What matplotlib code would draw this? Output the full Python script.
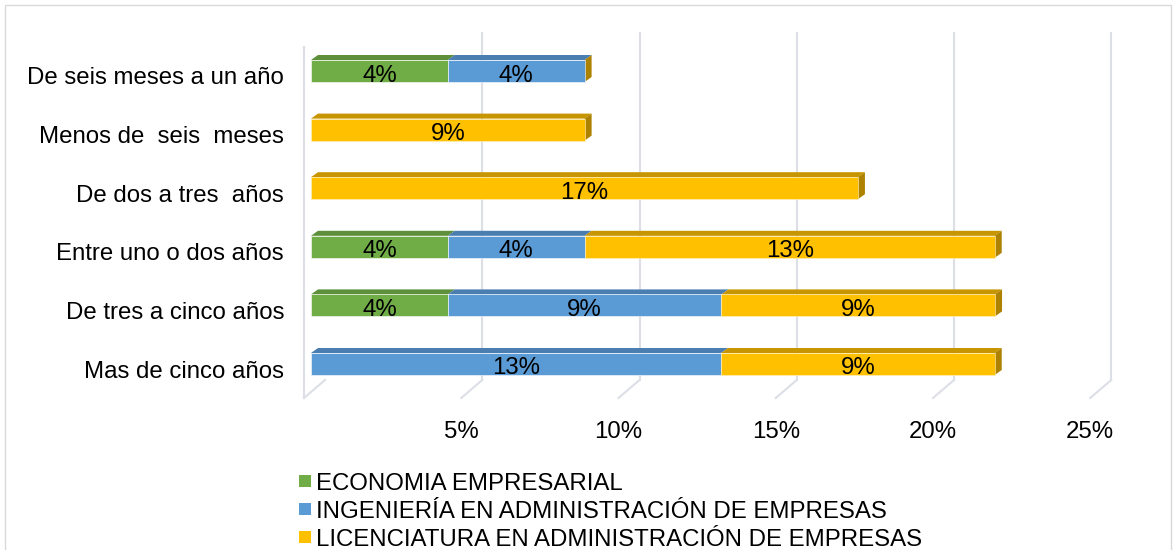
import matplotlib
matplotlib.use("Agg")
import matplotlib.pyplot as plt
from matplotlib.patches import Polygon, Rectangle

plt.rcParams['font.family'] = ['Liberation Sans', 'DejaVu Sans']

categories = ["Mas de cinco años", "De tres a cinco años", "Entre uno o dos años",
              "De dos a tres  años", "Menos de  seis  meses", "De seis meses a un año"]
series_names = ["ECONOMIA EMPRESARIAL",
                "INGENIERÍA EN ADMINISTRACIÓN DE EMPRESAS",
                "LICENCIATURA EN ADMINISTRACIÓN DE EMPRESAS"]
economia = [0, 4.35, 4.35, 0, 0, 4.35]
ingenieria = [13.04, 8.70, 4.35, 0, 0, 4.35]
licenciatura = [8.70, 8.70, 13.04, 17.39, 8.70, 0]
xticks = [5, 10, 15, 20, 25]
xtick_labels = ["5%", "10%", "15%", "20%", "25%"]

front_colors = ["#70AD47", "#5B9BD5", "#FFC000"]
top_colors = ["#5E8F3B", "#4A7DB0", "#C79500"]
side_colors = ["#4F7A32", "#3F6C99", "#AD8200"]

FS = 17.3

W, H = 1174, 550
fig = plt.figure(figsize=(W / 100, H / 100), dpi=100)

# pixel mapping: x_px = 311 + 31.45*v ; y_px = 364 - 58.6*i
PX_X, PX_Y = 31.45, 58.6
ax_l_px, ax_r_px, ax_t_px, ax_b_px = 285, 1140, 25, 410
ax = fig.add_axes([ax_l_px / W, 1 - ax_b_px / H, (ax_r_px - ax_l_px) / W, (ax_b_px - ax_t_px) / H])
ax.set_xlim((ax_l_px - 311) / PX_X, (ax_r_px - 311) / PX_X)
ax.set_ylim((364 - ax_b_px) / PX_Y, (364 - ax_t_px) / PX_Y)
ax.axis("off")

def dxp(px):
    return px / PX_X

def dyp(px):
    return px / PX_Y

grid_col = "#DCDFE6"
back_dx = dxp(14)
floor_front_dx = dxp(-7)
y_back = dyp(364 - 380)
y_front = dyp(364 - 398)
y_top = dyp(364 - 33)

# back wall gridlines and floor lines
for v in [0] + xticks:
    if v > 0:
        ax.plot([v + back_dx, v + back_dx], [y_back, y_top], color=grid_col, lw=1.5, zorder=1)
    ax.plot([v + back_dx, v + floor_front_dx], [y_back, y_front], color=grid_col, lw=1.5, zorder=1)
# left wall front edge
ax.plot([floor_front_dx, floor_front_dx], [y_front, dyp(364 - 47)], color=grid_col, lw=1.5, zorder=1)

bar_h = dyp(22)
ddx, ddy = dxp(7), dyp(5)
series = [economia, ingenieria, licenciatura]
for i, cat in enumerate(categories):
    left = 0.0
    for s, vals in enumerate(series):
        v = vals[i]
        if v <= 0:
            continue
        yb, yt = i - bar_h / 2, i + bar_h / 2
        ax.barh(i, v, left=left, height=bar_h, color=front_colors[s],
                edgecolor="#FFF2CC" if s == 2 else "#FFFFFF", linewidth=0.4, zorder=3)
        ax.add_patch(Polygon([(left, yt), (left + ddx, yt + ddy), (left + v + ddx, yt + ddy), (left + v, yt)],
                             closed=True, facecolor=top_colors[s], edgecolor="none", zorder=2.5))
        ax.text(left + v / 2, i - dyp(2), "%d%%" % round(v), ha="center", va="center_baseline",
                fontsize=FS, color="#000000", zorder=5)
        left += v
    yb, yt = i - bar_h / 2, i + bar_h / 2
    ax.add_patch(Polygon([(left, yb), (left, yt), (left + ddx, yt + ddy), (left + ddx, yb + ddy)],
                         closed=True, facecolor=side_colors[2], edgecolor="none", zorder=2.5))
    ax.text((284 - 311) / PX_X, i - dyp(5), cat, ha="right", va="center_baseline", fontsize=FS, color="#000000")

for v, lab in zip(xticks, xtick_labels):
    ax.text(v + floor_front_dx, dyp(364 - 429), lab, ha="center", va="center_baseline",
            fontsize=FS, color="#000000", clip_on=False)

# legend
for s, name in enumerate(series_names):
    yc = 481 + 28 * s
    fig.patches.append(Rectangle((299 / W, 1 - (yc + 6) / H), 12 / W, 12 / H,
                                 transform=fig.transFigure, facecolor=front_colors[s], edgecolor="none"))
    fig.text(316 / W, 1 - yc / H, name, ha="left", va="center_baseline", fontsize=FS, color="#000000")

# outer chart border
fig.patches.append(Rectangle((5 / W, -0.05), (W - 8) / W, 1 - 5 / H + 0.05, transform=fig.transFigure,
                             facecolor="none", edgecolor="#D9D9D9", linewidth=1))

fig.savefig("out.png", dpi=100)
